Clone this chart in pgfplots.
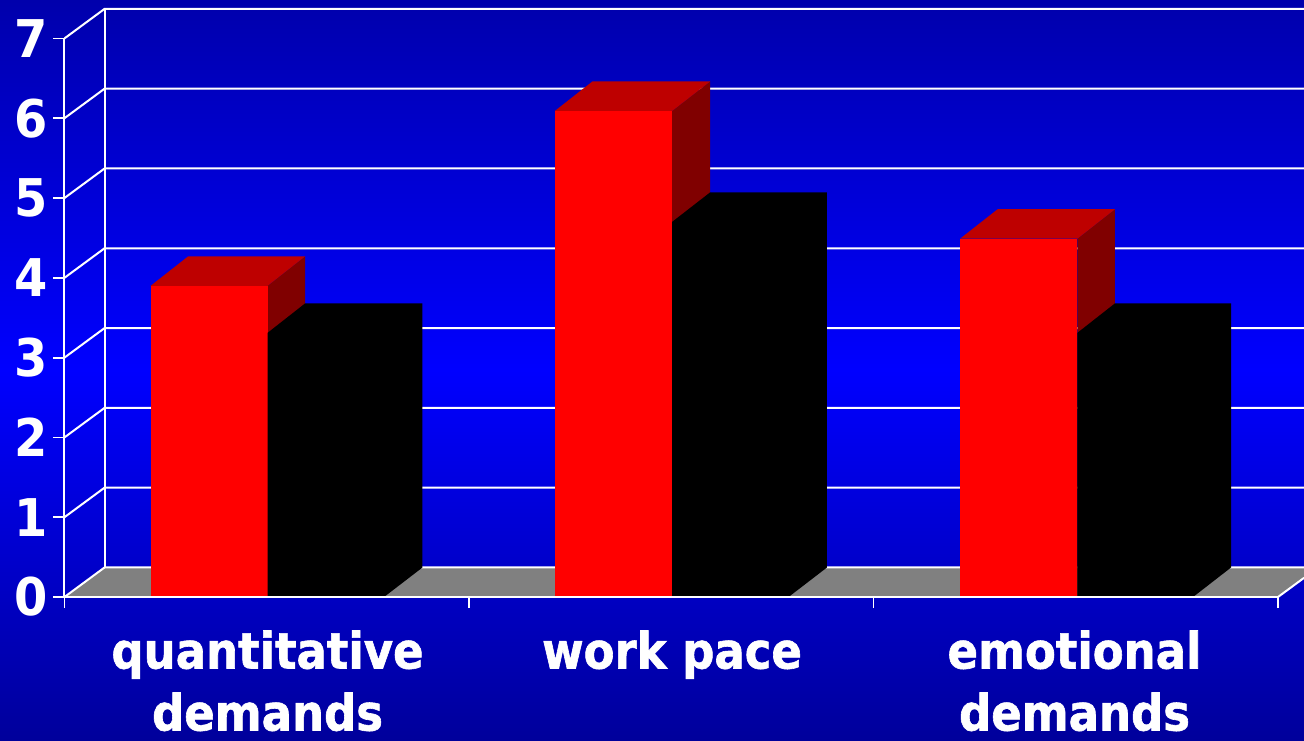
\documentclass[border=0pt]{standalone}
\usepackage{fontspec}
\setmainfont{DejaVu Sans Condensed}[BoldFont={DejaVu Sans Condensed Bold},BoldFeatures={FakeBold=1.2}]
\newfontfamily\tickfont{DejaVu Sans Bold}[FakeStretch=0.92]
\usepackage{pgfplots}
\pgfplotsset{compat=1.18}
\definecolor{bgtop}{RGB}{0,0,172}
\definecolor{bgmid}{RGB}{0,0,255}
\definecolor{bgbottom}{RGB}{0,0,155}
\definecolor{floorgrey}{RGB}{128,128,128}
\definecolor{redtop}{RGB}{190,0,0}
\definecolor{redside}{RGB}{128,0,0}

\begin{document}
\begin{tikzpicture}[x=1pt,y=1pt]
% slide background, 1304x740 with the plot's origin at (64.5,143) from bottom left
\path[use as bounding box, top color=bgtop, bottom color=bgbottom, middle color=bgmid]
  (-64.5,-143) rectangle (1239.5,597);
\begin{axis}[
  at={(0,0)}, anchor=south west,
  scale only axis, width=1213.5pt, height=558.6pt,
  xmin=0, xmax=3, ymin=0, ymax=7,
  clip=false, axis on top,
  axis x line=bottom, axis y line=left,
  axis line style={white, line width=2pt, -},
  xtick={0,1,2,3}, xticklabels={},
  ytick={0,1,2,3,4,5,6,7},
  tick align=outside, major tick length=11pt,
  tick style={white, line width=1.8pt},
  /pgf/number format/assume math mode=true,
  tick label style={text=white, font=\tickfont\fontsize{52}{63}\selectfont},
  y tick label style={xshift=-2pt},
  extra x ticks={0.502,1.502,2.497},
  extra x tick labels={quantitative\\demands, work pace, emotional\\demands},
  extra x tick style={major tick length=0pt, tick label style={align=center, yshift=-30pt, font=\bfseries\fontsize{50}{62}\selectfont}},
  wall/.style={white, line width=2pt, line join=round, forget plot},
  face/.style={draw=none, forget plot},
]
% floor
\addplot[face, fill=floorgrey] coordinates {(0,0)(3,0)(3.0644,0.24)(3.0644,0.37)(0.099,0.37)} -- cycle;
% walls and grid lines
\addplot[wall] coordinates {(0.099,0.37)(0.099,7.37)};
\addplot[wall] coordinates {(0,0)(0.099,0.37)(3.0644,0.37)};
\addplot[wall] coordinates {(3,0)(3.0644,0.24)};
\addplot[wall] coordinates {(0,1)(0.099,1.37)(3.0644,1.37)};
\addplot[wall] coordinates {(0,2)(0.099,2.37)(3.0644,2.37)};
\addplot[wall] coordinates {(0,3)(0.099,3.37)(3.0644,3.37)};
\addplot[wall] coordinates {(0,4)(0.099,4.37)(3.0644,4.37)};
\addplot[wall] coordinates {(0,5)(0.099,5.37)(3.0644,5.37)};
\addplot[wall] coordinates {(0,6)(0.099,6.37)(3.0644,6.37)};
\addplot[wall] coordinates {(0,7)(0.099,7.37)(3.0644,7.37)};

% quantitative demands
\addplot[face, fill=redside] coordinates {(0.502,0)(0.595,0.37)(0.595,4.27)(0.502,3.9)} -- cycle;
\addplot[face, fill=redtop] coordinates {(0.213,3.9)(0.502,3.9)(0.595,4.27)(0.306,4.27)} -- cycle;
\addplot[face, fill=red] coordinates {(0.213,0)(0.502,0)(0.502,3.9)(0.213,3.9)} -- cycle;
\addplot[face, fill=black] coordinates {(0.502,0)(0.79,0)(0.885,0.37)(0.885,3.68)(0.595,3.68)(0.502,3.31)} -- cycle;

% work pace
\addplot[face, fill=redside] coordinates {(1.502,0)(1.596,0.37)(1.596,6.46)(1.502,6.09)} -- cycle;
\addplot[face, fill=redtop] coordinates {(1.212,6.09)(1.502,6.09)(1.596,6.46)(1.305,6.46)} -- cycle;
\addplot[face, fill=red] coordinates {(1.212,0)(1.502,0)(1.502,6.09)(1.212,6.09)} -- cycle;
\addplot[face, fill=black] coordinates {(1.502,0)(1.79,0)(1.885,0.37)(1.885,5.07)(1.596,5.07)(1.502,4.7)} -- cycle;

% emotional demands
\addplot[face, fill=redside] coordinates {(2.504,0)(2.597,0.37)(2.597,4.86)(2.504,4.49)} -- cycle;
\addplot[face, fill=redtop] coordinates {(2.214,4.49)(2.504,4.49)(2.597,4.86)(2.307,4.86)} -- cycle;
\addplot[face, fill=red] coordinates {(2.214,0)(2.504,0)(2.504,4.49)(2.214,4.49)} -- cycle;
\addplot[face, fill=black] coordinates {(2.504,0)(2.79,0)(2.884,0.37)(2.884,3.68)(2.597,3.68)(2.504,3.31)} -- cycle;
\end{axis}
\end{tikzpicture}
\end{document}
